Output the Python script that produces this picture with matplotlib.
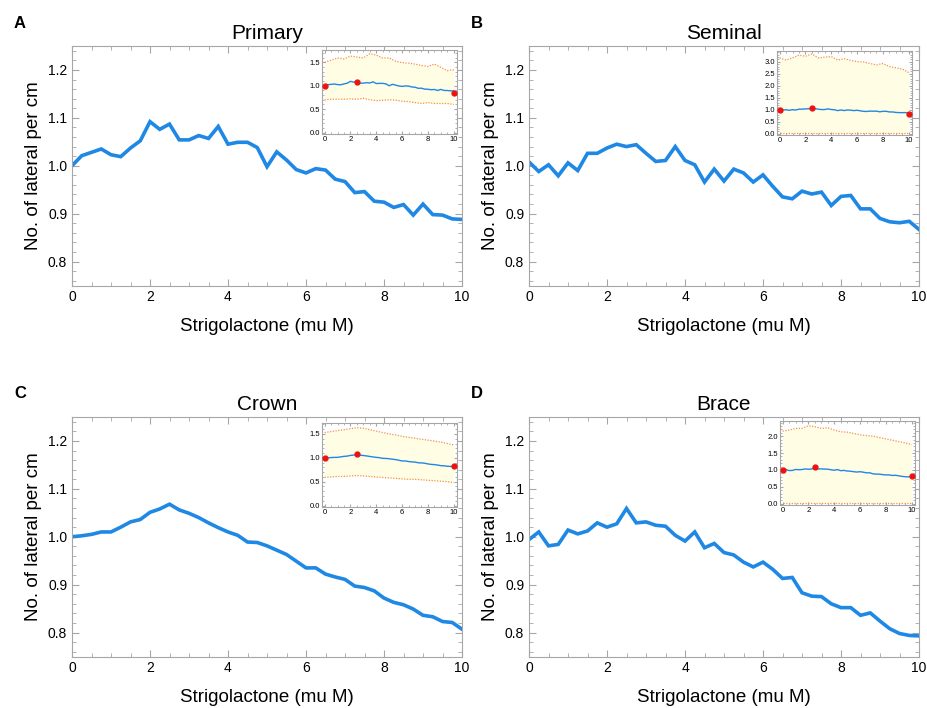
import numpy as np
import matplotlib.pyplot as plt
from matplotlib.ticker import MultipleLocator

plt.rcParams['font.family'] = ['Liberation Sans', 'DejaVu Sans']

# concentration grid of the main curves (0 .. 10, step 0.25)
x = np.arange(41) * 0.25
# coarser grid of the confidence band in the insets (step 0.5)
xb = np.arange(21) * 0.5

primary = [1.000, 1.021, 1.028, 1.035, 1.023, 1.019, 1.037, 1.052, 1.092, 1.076,
           1.087, 1.054, 1.054, 1.063, 1.057, 1.082, 1.045, 1.049, 1.049, 1.038,
           0.998, 1.029, 1.012, 0.992, 0.985, 0.994, 0.991, 0.972, 0.967, 0.944,
           0.946, 0.926, 0.924, 0.913, 0.919, 0.897, 0.920, 0.898, 0.897, 0.889,
           0.888]
seminal = [1.008, 0.988, 1.002, 0.979, 1.006, 0.990, 1.026, 1.026, 1.037, 1.045,
           1.040, 1.044, 1.026, 1.009, 1.011, 1.040, 1.011, 1.002, 0.966, 0.993,
           0.968, 0.993, 0.985, 0.966, 0.981, 0.957, 0.935, 0.931, 0.947, 0.941,
           0.945, 0.917, 0.936, 0.938, 0.910, 0.910, 0.890, 0.883, 0.881, 0.884,
           0.867]
crown = [1.000, 1.002, 1.005, 1.010, 1.010, 1.020, 1.031, 1.036, 1.051, 1.058,
         1.068, 1.056, 1.049, 1.040, 1.029, 1.019, 1.010, 1.003, 0.989, 0.988,
         0.981, 0.972, 0.963, 0.949, 0.935, 0.935, 0.922, 0.916, 0.911, 0.897,
         0.894, 0.887, 0.872, 0.863, 0.858, 0.849, 0.836, 0.833, 0.823, 0.821,
         0.807]
brace = [0.994, 1.010, 0.981, 0.984, 1.014, 1.006, 1.012, 1.029, 1.020, 1.027,
         1.059, 1.029, 1.031, 1.024, 1.022, 1.003, 0.991, 1.010, 0.977, 0.986,
         0.967, 0.962, 0.947, 0.937, 0.947, 0.932, 0.913, 0.915, 0.883, 0.876,
         0.875, 0.860, 0.852, 0.852, 0.836, 0.841, 0.824, 0.808, 0.798, 0.794,
         0.793]

# inset bands (upper / lower dotted lines)
primary_hi = [1.50, 1.54, 1.59, 1.57, 1.63, 1.61, 1.59, 1.68, 1.65, 1.59, 1.59,
              1.52, 1.49, 1.48, 1.46, 1.43, 1.41, 1.46, 1.39, 1.32, 1.34]
primary_lo = [0.70, 0.71, 0.71, 0.71, 0.72, 0.71, 0.73, 0.70, 0.68, 0.69, 0.70,
              0.69, 0.67, 0.66, 0.64, 0.62, 0.64, 0.62, 0.62, 0.62, 0.60]
seminal_hi = [3.16, 3.07, 3.16, 3.28, 3.23, 3.33, 3.16, 3.19, 3.22, 3.07, 3.13,
              3.06, 3.01, 2.99, 2.93, 2.87, 2.93, 2.80, 2.75, 2.70, 2.55]
seminal_lo = [0.02] * 21
crown_hi = [1.53, 1.55, 1.57, 1.59, 1.61, 1.63, 1.62, 1.59, 1.56, 1.53, 1.50,
            1.48, 1.45, 1.43, 1.41, 1.39, 1.37, 1.35, 1.33, 1.30, 1.27]
crown_lo = [0.59, 0.60, 0.61, 0.61, 0.62, 0.63, 0.62, 0.61, 0.60, 0.59, 0.58,
            0.57, 0.56, 0.55, 0.55, 0.54, 0.53, 0.52, 0.51, 0.50, 0.48]
brace_hi = [2.15, 2.18, 2.23, 2.23, 2.31, 2.28, 2.23, 2.25, 2.18, 2.13, 2.12,
            2.08, 2.04, 2.02, 2.00, 1.96, 1.92, 1.88, 1.84, 1.80, 1.75]
brace_lo = [0.02] * 21

# observed points (red dots)
obs_x = [0, 2.5, 10]
primary_obs = [1.0, 1.086, 0.836]
seminal_obs = [1.0, 1.07, 0.84]
crown_obs = [1.0, 1.085, 0.83]
brace_obs = [1.0, 1.09, 0.83]

W, H = 927, 708
blue = '#1f88e5'
frame = '#a6a6a6'

fig = plt.figure(figsize=(W / 100, H / 100), dpi=100)

panels = [
    ('A', 'Primary', primary, primary_hi, primary_lo, primary_obs, (72, 46), (322, 50), (-0.03, 1.76)),
    ('B', 'Seminal', seminal, seminal_hi, seminal_lo, seminal_obs, (529, 46), (777, 51), (-0.05, 3.45)),
    ('C', 'Crown', crown, crown_hi, crown_lo, crown_obs, (72, 417), (322, 423), (-0.03, 1.73)),
    ('D', 'Brace', brace, brace_hi, brace_lo, brace_obs, (529, 417), (780, 421), (-0.04, 2.45)),
]


def style_axes(ax, size, major_len, minor_len):
    for s in ax.spines.values():
        s.set_color(frame)
        s.set_linewidth(0.8)
    ax.tick_params(which='both', direction='in', top=True, right=True,
                   color=frame, labelsize=size)
    ax.tick_params(which='major', length=major_len)
    ax.tick_params(which='minor', length=minor_len)


for letter, title, y, hi, lo, obs, (ml, mt), (il, it), ilim in panels:
    ax = fig.add_axes([ml / W, 1 - (mt + 239.5) / H, 390 / W, 239.5 / H])
    ax.plot(x, y, color=blue, lw=2.6, solid_joinstyle='miter')
    ax.set_xlim(0, 10)
    ax.set_ylim(0.75, 1.25)
    ax.xaxis.set_major_locator(MultipleLocator(2))
    ax.xaxis.set_minor_locator(MultipleLocator(0.5))
    ax.yaxis.set_minor_locator(MultipleLocator(0.02))
    ax.set_yticks([0.8, 0.9, 1.0, 1.1, 1.2])
    ax.set_yticklabels(['0.8', '0.9', '1.0', '1.1', '1.2'])
    style_axes(ax, 10, 5, 3)
    ax.set_title(title, fontsize=15, pad=5)
    ax.set_xlabel('Strigolactone (mu M)', fontsize=13.5, labelpad=10)
    ax.set_ylabel('No. of lateral per cm', fontsize=13.5, labelpad=4)
    fig.text((ml - 58) / W, 1 - (mt - 23) / H, letter, fontsize=12, fontweight='bold',
             ha='left', va='center')

    ins = fig.add_axes([il / W, 1 - (it + 84) / H, 135 / W, 84 / H])
    ins.fill_between(xb, lo, hi, color='#fffde3', lw=0)
    ins.plot(xb, hi, color='#f5904a', lw=0.9, ls=(0, (1, 1.2)))
    ins.plot(xb, lo, color='#f5904a', lw=0.9, ls=(0, (1, 1.2)))
    ins.plot(x, y, color=blue, lw=1.0)
    ins.plot(obs_x, obs, 'o', color='#ee1111', ms=3.5, zorder=5, clip_on=False)
    ins.set_xlim(-0.2, 10.25)
    ins.set_ylim(*ilim)
    ins.xaxis.set_major_locator(MultipleLocator(2))
    ins.xaxis.set_minor_locator(MultipleLocator(0.5))
    ins.yaxis.set_major_locator(MultipleLocator(0.5))
    ins.yaxis.set_minor_locator(MultipleLocator(0.1))
    ins.yaxis.set_major_formatter(plt.FormatStrFormatter('%.1f'))
    style_axes(ins, 5.5, 2.5, 1.2)
    ins.tick_params(pad=1.5)

fig.savefig('out.png', dpi=100)
